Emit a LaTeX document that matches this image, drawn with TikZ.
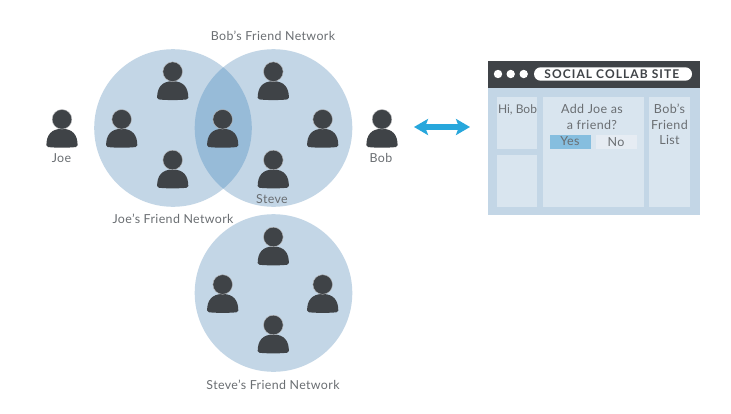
\documentclass[tikz,border=0pt]{standalone}
\usepackage{fontspec}
\setmainfont{Lato}
\usetikzlibrary{arrows.meta}
\definecolor{netblue}{HTML}{C3D6E6}
\definecolor{lensblue}{HTML}{97BBD8}
\definecolor{dark}{HTML}{3F4347}
\definecolor{txt}{HTML}{6A6E72}
\definecolor{pane}{HTML}{D9E5EF}
\definecolor{yesblue}{HTML}{86BEDF}
\definecolor{nogrey}{HTML}{E6ECF3}
\definecolor{cyanarrow}{HTML}{27A7DC}
\tikzset{
  x=1pt,y=-1pt,
  network/.style={fill=netblue,draw=none},
  label text/.style={text=txt,font=\addfontfeature{LetterSpace=3}\fontsize{12.4}{15}\selectfont,inner sep=0pt,align=center},
  win text/.style={text=txt,font=\addfontfeature{LetterSpace=3}\fontsize{12.5}{15.3}\selectfont,inner sep=0pt,align=center},
  panebox/.style={fill=pane,draw=none},
  person/.pic={
    \fill[dark] (-15.6,26) .. controls (-15.6,16) and (-11,9.5) .. (0,9.5)
       .. controls (11,9.5) and (15.6,16) .. (15.6,26)
       .. controls (15.6,27.2) and (15,27.5) .. (14,27.7)
       .. controls (7,28.6) and (-7,28.6) .. (-14,27.7)
       .. controls (-15,27.5) and (-15.6,27.2) .. (-15.6,26) -- cycle;
    \fill[dark,draw=white!65!dark,line width=0.4pt] (0,0) circle[radius=9.8];
  }
}
\begin{document}
\begin{tikzpicture}
\useasboundingbox (0,0) rectangle (731,413);
\fill[white] (0,0) rectangle (731,413);
% networks
\fill[network] (173,128) circle[radius=78.8];
\fill[network] (273.5,128) circle[radius=78.8];
\fill[network] (273.5,293) circle[radius=78.8];
\begin{scope}
  \clip (173,128) circle[radius=78.8];
  \fill[lensblue] (273.5,128) circle[radius=78.8];
\end{scope}
% people
\foreach \nm/\px/\py in {joe/62/119.3, bob/382/119.3,
  ja/172.7/71.7, jb/121.7/119.3, jc/172.7/160,
  ba/273.3/71.7, shared/222.7/119.3, bb/322.7/119.3, steve/273.3/160,
  sa/273.3/237, sb/222.7/284.5, sc/322.7/284.5, sd/273.3/325}
  \pic (\nm) at (\px,\py) {person};
% labels
\node[label text] (joelabel) at (61.5,158) {Joe};
\node[label text] (boblabel) at (381,158) {Bob};
\node[label text] (stevelabel) at (272,199) {Steve};
\node[label text] (bobnet) at (273,36) {Bob’s Friend Network};
\node[label text] (joenet) at (173,219) {Joe’s Friend Network};
\node[label text] (stevenet) at (273,385) {Steve’s Friend Network};
% arrow
\coordinate (arrowl) at (414,127);
\coordinate (arrowr) at (470,127);
\draw[cyanarrow,line width=5.2pt,{Stealth[length=14pt,width=16pt,inset=3pt]}-{Stealth[length=14pt,width=16pt,inset=3pt]}] (arrowl) -- (arrowr);
% window
\fill[netblue] (488,61) rectangle (699.5,215);
\fill[dark] (488,61) rectangle (699.5,87.7);
\foreach \dx in {498,510.7,523.7} \fill[white] (\dx,74) circle[radius=4.2];
\node[fill=white,rounded corners=6.7pt,minimum width=158pt,minimum height=13.4pt,inner sep=0pt] (sitepill) at (613,74) {};
\node[inner sep=0pt,text=dark,font=\bfseries\fontsize{12}{14}\selectfont] (sitetitle) at (611.8,74) {\addfontfeature{LetterSpace=9}SOCIAL COLLAB SITE};
\fill[panebox] (497,97.3) rectangle (537,149);
\fill[panebox] (497,154.7) rectangle (537,206.7);
\fill[panebox] (542.7,97.3) rectangle (643.7,206.7);
\fill[panebox] (649.3,97.3) rectangle (690,206.7);
\fill[yesblue] (549.7,135) rectangle (590.7,148.7);
\fill[nogrey] (596,135) rectangle (636.7,148.7);
\node[win text,font=\addfontfeature{LetterSpace=0}\fontsize{12}{15}\selectfont] (hibob) at (517.5,110) {Hi, Bob};
\node[win text] (addjoe) at (592,117) {Add Joe as\\a friend?};
\node[win text] (yes) at (570,141) {Yes};
\node[win text] (no) at (616,142) {No};
\node[win text] (friendlist) at (669.5,124.3) {Bob’s\\Friend\\List};
\end{tikzpicture}
\end{document}
